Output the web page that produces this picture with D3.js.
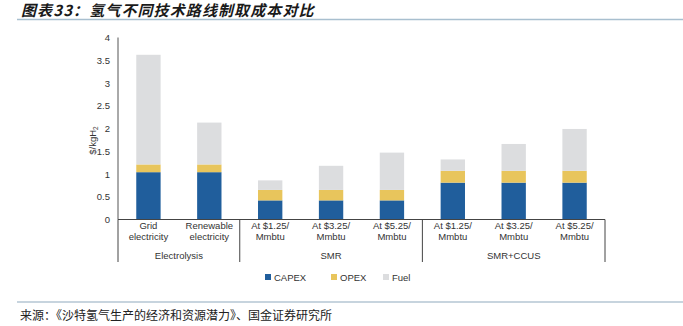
<!DOCTYPE html>
<html><head><meta charset="utf-8">
<script src="https://cdn.jsdelivr.net/npm/d3@7"></script>
<style>
body{margin:0;background:#fff;}
svg{display:block;}
</style></head>
<body>
<svg id="c" width="683" height="326"></svg>
<script>
const categories = [
  ["Grid","electricity"],["Renewable","electricity"],
  ["At $1.25/","Mmbtu"],["At $3.25/","Mmbtu"],["At $5.25/","Mmbtu"],
  ["At $1.25/","Mmbtu"],["At $3.25/","Mmbtu"],["At $5.25/","Mmbtu"]
];
const groups = [
  {name:"Electrolysis", start:0, end:2},
  {name:"SMR", start:2, end:5},
  {name:"SMR+CCUS", start:5, end:8}
];
const capex = [1.04, 1.04, 0.42, 0.42, 0.42, 0.81, 0.81, 0.81];
const opex  = [0.17, 0.17, 0.23, 0.23, 0.23, 0.26, 0.26, 0.26];
const fuel  = [2.41, 0.92, 0.21, 0.53, 0.82, 0.25, 0.59, 0.92];
const seriesNames = ["CAPEX","OPEX","Fuel"];
const colors = ["#205e9c","#e8c55c","#dcdddf"];
const yTicks = [0,0.5,1,1.5,2,2.5,3,3.5,4];
const title = "图表33：氢气不同技术路线制取成本对比";
const source = "来源：《沙特氢气生产的经济和资源潜力》、国金证券研究所";

const svg = d3.select("#c");
const font = "'Liberation Sans', Arial, sans-serif";
const cjk = "'Noto Sans CJK SC', sans-serif";

// title
svg.append("text").attr("x",21).attr("y",16).text(title)
  .attr("font-family",cjk).attr("font-size",15).attr("font-weight","bold")
  .attr("font-style","italic").attr("fill","#1a1a1a").attr("letter-spacing",1.1);
svg.append("line").attr("x1",17).attr("x2",683).attr("y1",19.5).attr("y2",19.5)
  .attr("stroke","#a8bfcf").attr("stroke-width",1.5);

const x0 = 118, x1 = 605, yBase = 219.5, yTop = 37.5;
const x = d3.scaleBand().domain(d3.range(categories.length)).range([x0,x1]).paddingInner(0.6).paddingOuter(0.3);
const y = d3.scaleLinear().domain([0,4]).range([yBase,yTop]);

const rows = categories.map((c,i)=>({i, CAPEX:capex[i], OPEX:opex[i], Fuel:fuel[i]}));
const stack = d3.stack().keys(seriesNames)(rows);

svg.append("g").selectAll("g").data(stack).join("g")
  .attr("fill",(d,i)=>colors[i])
  .selectAll("rect").data(d=>d).join("rect")
  .attr("x",d=>x(d.data.i)).attr("width",x.bandwidth())
  .attr("y",d=>y(d[1])).attr("height",d=>y(d[0])-y(d[1]));

// y axis
const yAxis = d3.axisLeft(y).tickValues(yTicks).tickSize(0).tickPadding(8).tickFormat(d=>d3.format("")(d));
const ga = svg.append("g").attr("transform",`translate(${x0},0)`).call(yAxis);
ga.select(".domain").attr("stroke","#555").attr("d",`M0,${yTop}V${yBase}`);
ga.selectAll("text").attr("font-family",font).attr("font-size",9.5).attr("fill","#333");

// y label
const yl = svg.append("text").attr("transform",`translate(96,${(yBase+yTop)/2+12}) rotate(-90)`)
  .attr("text-anchor","middle").attr("font-family",font).attr("font-size",9.5).attr("fill","#333");
yl.append("tspan").text("$/kgH");
yl.append("tspan").text("2").attr("font-size",6.5).attr("dy",2);

// x axis lines
const ax = svg.append("g").attr("stroke","#444").attr("stroke-width",1);
ax.append("line").attr("x1",x0).attr("x2",x1).attr("y1",yBase).attr("y2",yBase);
const divs = [0,2,5,8];
divs.forEach(k=>{
  const xx = x0 + k*(x1-x0)/categories.length;
  ax.append("line").attr("x1",xx).attr("x2",xx).attr("y1",yBase).attr("y2",262);
});

// category labels
const cl = svg.append("g").attr("font-family",font).attr("font-size",9.5).attr("fill","#333").attr("text-anchor","middle");
categories.forEach((c,i)=>{
  const cx = x(i)+x.bandwidth()/2;
  c.forEach((line,j)=>{
    cl.append("text").attr("x",cx).attr("y",229+j*11).text(line);
  });
});
groups.forEach(g=>{
  const a = x0 + g.start*(x1-x0)/categories.length;
  const b = x0 + g.end*(x1-x0)/categories.length;
  cl.append("text").attr("x",(a+b)/2).attr("y",259).text(g.name);
});

// legend
const legX = [265, 331, 383];
const lg = svg.append("g").attr("font-family",font).attr("font-size",9.5).attr("fill","#333");
seriesNames.forEach((s,i)=>{
  lg.append("rect").attr("x",legX[i]).attr("y",274).attr("width",6).attr("height",6).attr("fill",colors[i]);
  lg.append("text").attr("x",legX[i]+9).attr("y",280.5).text(s);
});

// source
svg.append("line").attr("x1",17).attr("x2",683).attr("y1",302).attr("y2",302)
  .attr("stroke","#8fa9bd").attr("stroke-width",1);
svg.append("text").attr("x",20).attr("y",319.5).text(source)
  .attr("font-family",cjk).attr("font-size",12).attr("fill","#222");
</script>
</body></html>
